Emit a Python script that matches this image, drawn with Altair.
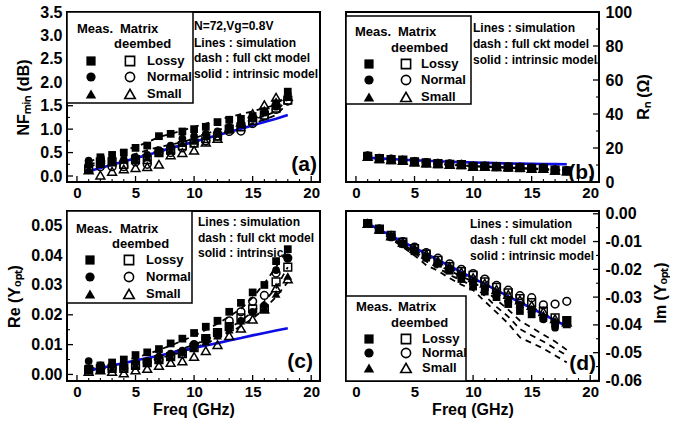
import altair as alt
import pandas as pd

FREQ = list(range(1, 19))

# ---------------- panel (a): NFmin (dB) ----------------
NF_MEAS_LOSSY = [0.25, 0.40, 0.45, 0.50, 0.60, 0.65, 0.85, 0.90, 0.95, 1.00, 1.05, 1.15, 1.20, 1.22, 1.28, 1.38, 1.55, 1.80]
NF_MEAS_NORMAL = [0.33, 0.30, 0.30, 0.35, 0.40, 0.45, 0.55, 0.65, 0.80, 0.85, 0.90, 0.95, 1.05, 1.12, 1.22, 1.35, 1.48, 1.75]
NF_MEAS_SMALL = [0.15, 0.25, 0.30, 0.35, 0.35, 0.40, 0.50, 0.55, 0.70, 0.75, 0.85, 0.90, 1.00, 1.10, 1.25, 1.42, 1.60, 1.68]
NF_DEEMB_LOSSY = [0.15, 0.30, 0.30, 0.25, 0.35, 0.35, 0.50, 0.55, 0.65, 0.70, 0.80, 0.85, 1.00, 1.05, 1.18, 1.30, 1.45, 1.62]
NF_DEEMB_NORMAL = [0.15, 0.20, 0.20, 0.20, 0.30, 0.25, 0.50, 0.50, 0.60, 0.70, 0.75, 0.85, 0.95, 0.96, 1.12, 1.28, 1.42, 1.60]
NF_DEEMB_SMALL = [0.13, 0.02, 0.10, 0.15, 0.18, 0.20, 0.25, 0.45, 0.50, 0.55, 0.72, 0.80, 1.02, 1.15, 1.33, 1.52, 1.68, 1.70]
NF_FULL_1 = [0.30, 0.40, 0.47, 0.55, 0.62, 0.72, 0.83, 0.90, 0.97, 1.05, 1.12, 1.19, 1.26, 1.32, 1.38, 1.45, 1.52, 1.75]
NF_FULL_2 = [0.25, 0.30, 0.36, 0.41, 0.47, 0.55, 0.62, 0.67, 0.72, 0.80, 0.90, 0.98, 1.05, 1.12, 1.20, 1.28, 1.38, 1.65]
NF_FULL_3 = [0.20, 0.26, 0.31, 0.36, 0.41, 0.47, 0.53, 0.60, 0.66, 0.73, 0.80, 0.88, 0.96, 1.04, 1.12, 1.20, 1.30, 1.55]
NF_INTR = [0.10, 0.17, 0.24, 0.31, 0.38, 0.45, 0.52, 0.59, 0.66, 0.73, 0.80, 0.87, 0.94, 1.01, 1.08, 1.15, 1.22, 1.30]

# ---------------- panel (b): Rn (Ohm) ----------------
RN_MEAS_LOSSY = [15.0, 13.6, 13.1, 12.8, 11.8, 11.1, 10.7, 10.3, 10.1, 9.1, 9.1, 8.9, 8.6, 8.2, 7.8, 7.9, 6.9, 6.4]
RN_MEAS_NORMAL = [15.3, 13.8, 13.3, 12.6, 11.9, 11.3, 10.9, 10.5, 10.3, 9.3, 9.2, 9.0, 8.8, 8.4, 8.1, 8.0, 7.1, 6.6]
RN_MEAS_SMALL = [14.8, 13.5, 13.0, 12.5, 11.7, 11.0, 10.6, 10.2, 10.0, 9.0, 9.0, 8.8, 8.7, 8.5, 8.0, 7.8, 6.8, 6.3]
RN_DEEMB_LOSSY = [15.1, 13.7, 13.2, 12.9, 11.8, 11.2, 10.8, 10.4, 10.2, 9.2, 9.2, 9.0, 8.8, 8.5, 8.0, 8.0, 7.0, 6.5]
RN_DEEMB_NORMAL = [15.4, 13.9, 13.4, 12.7, 12.0, 11.4, 11.0, 10.6, 10.4, 9.4, 9.3, 9.1, 8.9, 8.6, 8.2, 8.1, 7.2, 6.7]
RN_DEEMB_SMALL = [15.1, 13.7, 13.2, 12.7, 11.8, 11.2, 10.8, 10.4, 10.2, 9.2, 9.2, 9.0, 8.8, 8.5, 8.0, 8.0, 7.0, 6.5]
RN_FULL_1 = [14.8, 13.6, 13.0, 12.5, 11.8, 11.2, 10.7, 10.3, 9.9, 9.5, 9.2, 8.9, 8.6, 8.3, 8.0, 7.7, 7.3, 6.9]
RN_FULL_2 = [14.5, 13.3, 12.7, 12.1, 11.5, 10.9, 10.4, 10.0, 9.6, 9.2, 8.8, 8.5, 8.2, 7.9, 7.6, 7.3, 6.9, 6.5]
RN_INTR = [14.3, 13.9, 13.5, 13.1, 12.8, 12.5, 12.2, 11.9, 11.7, 11.5, 11.3, 11.1, 10.9, 10.8, 10.7, 10.6, 10.5, 10.4]

# ---------------- panel (c): Re(Yopt) ----------------
RE_MEAS_LOSSY = [0.0020, 0.0030, 0.0040, 0.0050, 0.0065, 0.0074, 0.0085, 0.0104, 0.0120, 0.0139, 0.0160, 0.0180, 0.0210, 0.0240, 0.0275, 0.0300, 0.0380, 0.0420]
RE_MEAS_NORMAL = [0.0045, 0.0030, 0.0030, 0.0030, 0.0040, 0.0045, 0.0060, 0.0070, 0.0080, 0.0100, 0.0120, 0.0140, 0.0160, 0.0180, 0.0210, 0.0230, 0.0350, 0.0390]
RE_MEAS_SMALL = [0.0015, 0.0020, 0.0020, 0.0025, 0.0030, 0.0040, 0.0050, 0.0060, 0.0075, 0.0090, 0.0110, 0.0130, 0.0150, 0.0180, 0.0210, 0.0220, 0.0270, 0.0330]
RE_DEEMB_LOSSY = [0.0015, 0.0020, 0.0020, 0.0020, 0.0030, 0.0040, 0.0050, 0.0060, 0.0070, 0.0090, 0.0120, 0.0140, 0.0160, 0.0190, 0.0220, 0.0220, 0.0310, 0.0360]
RE_DEEMB_NORMAL = [0.0015, 0.0020, 0.0020, 0.0020, 0.0030, 0.0040, 0.0050, 0.0060, 0.0070, 0.0100, 0.0120, 0.0140, 0.0180, 0.0210, 0.0245, 0.0265, 0.0340, 0.0390]
RE_DEEMB_SMALL = [0.0010, 0.0015, 0.0010, 0.0005, 0.0015, 0.0020, 0.0030, 0.0040, 0.0045, 0.0060, 0.0080, 0.0100, 0.0130, 0.0155, 0.0185, 0.0220, 0.0290, 0.0320]
RE_FULL_1 = [0.0018, 0.0026, 0.0035, 0.0045, 0.0056, 0.0068, 0.0082, 0.0097, 0.0113, 0.0130, 0.0149, 0.0170, 0.0194, 0.0220, 0.0258, 0.0305, 0.0360, 0.0420]
RE_FULL_2 = [0.0015, 0.0021, 0.0028, 0.0035, 0.0043, 0.0052, 0.0062, 0.0073, 0.0086, 0.0100, 0.0116, 0.0134, 0.0155, 0.0180, 0.0210, 0.0245, 0.0290, 0.0360]
RE_FULL_3 = [0.0013, 0.0018, 0.0024, 0.0030, 0.0037, 0.0045, 0.0054, 0.0064, 0.0076, 0.0089, 0.0104, 0.0121, 0.0140, 0.0162, 0.0187, 0.0220, 0.0260, 0.0310]
RE_INTR = [0.0013, 0.0021, 0.0030, 0.0038, 0.0047, 0.0055, 0.0063, 0.0072, 0.0080, 0.0089, 0.0097, 0.0105, 0.0114, 0.0122, 0.0131, 0.0139, 0.0147, 0.0155]

# ---------------- panel (d): Im(Yopt) ----------------
IM_MEAS_LOSSY = [-0.0035, -0.0058, -0.0082, -0.0108, -0.0135, -0.0158, -0.0180, -0.0205, -0.0235, -0.0262, -0.0280, -0.0300, -0.0325, -0.0350, -0.0362, -0.0375, -0.0395, -0.0385]
IM_MEAS_NORMAL = [-0.0035, -0.0058, -0.0085, -0.0110, -0.0132, -0.0155, -0.0178, -0.0200, -0.0225, -0.0250, -0.0268, -0.0290, -0.0312, -0.0330, -0.0348, -0.0380, -0.0410, -0.0395]
IM_MEAS_SMALL = [-0.0035, -0.0055, -0.0080, -0.0105, -0.0130, -0.0150, -0.0175, -0.0195, -0.0220, -0.0240, -0.0262, -0.0282, -0.0305, -0.0325, -0.0342, -0.0362, -0.0385, -0.0398]
IM_DEEMB_LOSSY = [-0.0035, -0.0055, -0.0078, -0.0102, -0.0125, -0.0145, -0.0168, -0.0190, -0.0208, -0.0222, -0.0245, -0.0265, -0.0285, -0.0305, -0.0320, -0.0350, -0.0375, -0.0385]
IM_DEEMB_NORMAL = [-0.0035, -0.0055, -0.0078, -0.0100, -0.0120, -0.0140, -0.0160, -0.0180, -0.0200, -0.0215, -0.0235, -0.0258, -0.0275, -0.0295, -0.0302, -0.0328, -0.0325, -0.0315]
IM_DEEMB_SMALL = [-0.0035, -0.0055, -0.0080, -0.0102, -0.0125, -0.0145, -0.0170, -0.0190, -0.0210, -0.0230, -0.0250, -0.0272, -0.0290, -0.0310, -0.0330, -0.0352, -0.0378, -0.0390]
IM_FULL_1 = [-0.0035, -0.0060, -0.0085, -0.0110, -0.0135, -0.0162, -0.0185, -0.0205, -0.0225, -0.0245, -0.0275, -0.0310, -0.0345, -0.0385, -0.0410, -0.0435, -0.0460, -0.0490]
IM_FULL_2 = [-0.0035, -0.0060, -0.0088, -0.0115, -0.0142, -0.0172, -0.0195, -0.0220, -0.0240, -0.0260, -0.0295, -0.0335, -0.0370, -0.0415, -0.0438, -0.0460, -0.0485, -0.0510]
IM_FULL_3 = [-0.0035, -0.0062, -0.0090, -0.0120, -0.0150, -0.0185, -0.0205, -0.0232, -0.0255, -0.0275, -0.0315, -0.0355, -0.0395, -0.0445, -0.0465, -0.0485, -0.0510, -0.0535]
IM_INTR = [-0.0035, -0.0057, -0.0079, -0.0101, -0.0122, -0.0144, -0.0166, -0.0188, -0.0210, -0.0232, -0.0253, -0.0275, -0.0297, -0.0319, -0.0340, -0.0362, -0.0384, -0.0405]

# ---------------- axes ----------------
X_MAJOR = [0, 5, 10, 15, 20]
X_MINOR = [1, 2, 3, 4, 6, 7, 8, 9, 11, 12, 13, 14, 16, 17, 18, 19]
NF_MAJOR = [0.0, 0.5, 1.0, 1.5, 2.0, 2.5, 3.0, 3.5]
NF_MINOR = [0.25, 0.75, 1.25, 1.75, 2.25, 2.75, 3.25]
RN_MAJOR = [0, 20, 40, 60, 80, 100]
RN_MINOR = [10, 30, 50, 70, 90]
RE_MAJOR = [0.00, 0.01, 0.02, 0.03, 0.04, 0.05]
RE_MINOR = [0.005, 0.015, 0.025, 0.035, 0.045]
IM_MAJOR = [0.00, -0.01, -0.02, -0.03, -0.04, -0.05, -0.06]
IM_MINOR = [-0.005, -0.015, -0.025, -0.035, -0.045, -0.055]

LEGEND_NAMES = ["Lossy", "Normal", "Small"]
SHAPES = ["square", "circle", "triangle-up"]
SIZE_SCALE = {"square": 1.0, "circle": 1.0, "triangle-up": 1.3}

FONT = "Liberation Sans"
W, H = 253, 170
XDOM = [-0.85, 20.75]
BLUE = "#0c0ce6"


def one_row():
    return pd.DataFrame({"k": [0]})


def text_at(txt, x, y, size=12, align="left", angle=0):
    return alt.Chart(one_row()).mark_text(
        text=txt, font=FONT, fontSize=size, fontWeight="bold", align=align,
        baseline="middle", color="black", angle=angle
    ).encode(x=alt.value(x), y=alt.value(y))


def sym_at(shape, filled, x, y, size):
    return alt.Chart(one_row()).mark_point(
        shape=shape, filled=filled, size=size * SIZE_SCALE[shape], color="black", strokeWidth=1.6, opacity=1
    ).encode(x=alt.value(x), y=alt.value(y))


def legend(box, hy, dy, rows, sx1, sx2, lx, mx, matx, deemx):
    x0, y0, x1, y1 = box
    layers = [alt.Chart(one_row()).mark_rect(fill="white", stroke="black", strokeWidth=1.5).encode(
        x=alt.value(x0), x2=alt.value(x1), y=alt.value(y0), y2=alt.value(y1))]
    layers.append(text_at("Meas.", mx, hy, 13))
    layers.append(text_at("Matrix", matx, hy, 13))
    layers.append(text_at("deembed", deemx, dy, 13))
    for name, shape, ry in zip(LEGEND_NAMES, SHAPES, rows):
        layers.append(sym_at(shape, True, sx1, ry, 85))
        layers.append(sym_at(shape, False, sx2, ry, 85))
        layers.append(text_at(name, lx, ry, 13))
    return layers


def panel(meas, deemb, full, intr, ydom, ymajor, yminor, side, yfmt, ytitle, xtitle, deco):
    xaxis = dict(values=X_MAJOR, labelFontSize=15, labelPadding=3)
    if xtitle:
        xaxis.update(title=xtitle, titleFontSize=16, titlePadding=2)
    else:
        xaxis.update(title=None)
    xenc = alt.X("f:Q", scale=alt.Scale(domain=XDOM, nice=False, zero=False), axis=alt.Axis(**xaxis))
    yaxis = dict(orient=side, values=ymajor, format=yfmt, labelFontSize=16,
                 labelExpr="replace(datum.label, '−', '-')")
    if side == "left":
        yaxis.update(labelPadding=5, titlePadding=8, title=ytitle)
    else:
        yaxis.update(labelPadding=6, title=None)
    yenc = alt.Y("val:Q", scale=alt.Scale(domain=ydom, nice=False, zero=False), axis=alt.Axis(**yaxis))

    layers = []
    # inward ticks
    xmaj = pd.DataFrame({"f": X_MAJOR})
    xmin = pd.DataFrame({"f": X_MINOR})
    layers.append(alt.Chart(xmaj).mark_rule(color="black", strokeWidth=1.3).encode(
        x=xenc, y=alt.value(H), y2=alt.value(H - 6)))
    layers.append(alt.Chart(xmin).mark_rule(color="black", strokeWidth=1.1).encode(
        x=xenc, y=alt.value(H), y2=alt.value(H - 3)))
    ex = 0 if side == "left" else W
    sgn = 1 if side == "left" else -1
    layers.append(alt.Chart(pd.DataFrame({"val": ymajor})).mark_rule(color="black", strokeWidth=1.3).encode(
        y=yenc, x=alt.value(ex), x2=alt.value(ex + sgn * 6)))
    layers.append(alt.Chart(pd.DataFrame({"val": yminor})).mark_rule(color="black", strokeWidth=1.1).encode(
        y=yenc, x=alt.value(ex), x2=alt.value(ex + sgn * 3)))

    # legend + annotations drawn below data
    layers += deco

    # dashed full-circuit model curves
    fd = pd.concat([pd.DataFrame({"f": FREQ, "val": v, "curve": "full%d" % i}) for i, v in enumerate(full)])
    layers.append(alt.Chart(fd).mark_line(color="black", strokeWidth=1.8, strokeDash=[6, 5]).encode(
        x=xenc, y=yenc, detail="curve:N"))
    # intrinsic model
    layers.append(alt.Chart(pd.DataFrame({"f": FREQ, "val": intr})).mark_line(color=BLUE, strokeWidth=2.6).encode(
        x=xenc, y=yenc))
    # markers
    for vals, shape in zip(meas, SHAPES):
        layers.append(alt.Chart(pd.DataFrame({"f": FREQ, "val": vals})).mark_point(
            shape=shape, filled=True, size=60 * SIZE_SCALE[shape], color="black", opacity=1).encode(x=xenc, y=yenc))
    for vals, shape in zip(deemb, SHAPES):
        layers.append(alt.Chart(pd.DataFrame({"f": FREQ, "val": vals})).mark_point(
            shape=shape, filled=False, size=60 * SIZE_SCALE[shape], color="black", strokeWidth=1.5,
            opacity=1).encode(x=xenc, y=yenc))
    return alt.layer(*layers).properties(width=W, height=H)


deco_a = legend((0, 0, 126, 91), 17, 32, [49, 65, 82], 24, 63, 80, 10, 53, 47) + [
    text_at("N=72,Vg=0.8V", 127, 14, 12),
    text_at("Lines : simulation", 127, 31, 12),
    text_at("dash : full ckt model", 127, 46, 12),
    text_at("solid : intrinsic model", 127, 62, 12),
    text_at("(a)", 250, 153, 21, "right"),
]
deco_b = legend((0, 4, 125, 92), 20, 36, [52, 68, 85], 23, 60, 75, 9, 52, 45) + [
    text_at("Lines : simulation", 127, 16, 12),
    text_at("dash : full ckt model", 127, 32, 12),
    text_at("solid : intrinsic model", 127, 48, 12),
    text_at("(b)", 249, 161, 21, "right"),
    text_at("Rₙ (Ω)", W + 45, 85, 16, "center", 270),
]
deco_c = legend((0, 0, 125, 92), 18, 33, [49, 66, 83], 23, 62, 79, 9, 53, 45) + [
    text_at("Lines : simulation", 131, 11, 12),
    text_at("dash : full ckt model", 131, 27, 12),
    text_at("solid : intrinsic", 131, 42, 12),
    text_at("(c)", 246, 151, 21, "right"),
]
deco_d = legend((0, 85, 120, H), 96, 112, [128, 142, 157], 23, 60, 76, 10, 52, 45) + [
    text_at("Lines : simulation", 124, 13, 12),
    text_at("dash : full ckt model", 124, 29, 12),
    text_at("solid : intrinsic model", 124, 45, 12),
    text_at("(d)", 250, 153, 21, "right"),
    text_at("Im (Yₒₚₜ)", W + 62, 82, 16, "center", 270),
]

pa = panel([NF_MEAS_LOSSY, NF_MEAS_NORMAL, NF_MEAS_SMALL], [NF_DEEMB_LOSSY, NF_DEEMB_NORMAL, NF_DEEMB_SMALL],
           [NF_FULL_1, NF_FULL_2, NF_FULL_3], NF_INTR, [-0.128, 3.5], NF_MAJOR, NF_MINOR, "left", ".1f",
           "NFₘᵢₙ (dB)", None, deco_a)
pb = panel([RN_MEAS_LOSSY, RN_MEAS_NORMAL, RN_MEAS_SMALL], [RN_DEEMB_LOSSY, RN_DEEMB_NORMAL, RN_DEEMB_SMALL],
           [RN_FULL_1, RN_FULL_2], RN_INTR, [0, 100], RN_MAJOR, RN_MINOR, "right", "d",
           "Rₙ (Ω)", None, deco_b)
pc = panel([RE_MEAS_LOSSY, RE_MEAS_NORMAL, RE_MEAS_SMALL], [RE_DEEMB_LOSSY, RE_DEEMB_NORMAL, RE_DEEMB_SMALL],
           [RE_FULL_1, RE_FULL_2, RE_FULL_3], RE_INTR, [-0.0022, 0.0548], RE_MAJOR, RE_MINOR, "left", ".2f",
           "Re (Yₒₚₜ)", "Freq (GHz)", deco_c)
pd_ = panel([IM_MEAS_LOSSY, IM_MEAS_NORMAL, IM_MEAS_SMALL], [IM_DEEMB_LOSSY, IM_DEEMB_NORMAL, IM_DEEMB_SMALL],
            [IM_FULL_1, IM_FULL_2, IM_FULL_3], IM_INTR, [-0.0602, 0.001], IM_MAJOR, IM_MINOR, "right", ".2f",
            "Im (Yₒₚₜ)", "Freq (GHz)", deco_d)

chart = alt.concat(pa, pb, pc, pd_, columns=2, spacing={"row": 29, "column": 26}, bounds="flush").properties(
    padding={"left": 5, "top": 3, "right": 0, "bottom": 0}
).configure_view(stroke="black", strokeWidth=2).configure_axis(
    grid=False, ticks=False, tickSize=0, domain=False,
    labelFont=FONT, labelFontWeight="bold", labelColor="black",
    titleFont=FONT, titleFontWeight="bold", titleColor="black", titleFontSize=16
)

chart.save("out.html", embed_options={"renderer": "svg", "actions": False})
